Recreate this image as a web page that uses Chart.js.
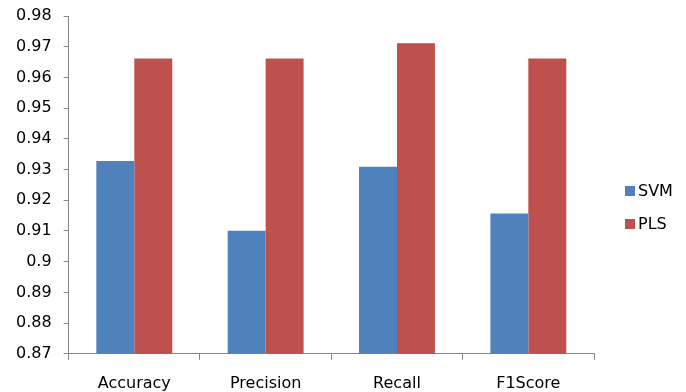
<!DOCTYPE html>
<html>
<head>
<meta charset="utf-8">
<script src="https://cdn.jsdelivr.net/npm/chart.js@4.4.1/dist/chart.umd.min.js"></script>
<style>
  html, body { margin: 0; padding: 0; background: #fff; }
  #wrap { position: relative; width: 686px; height: 392px; }
  #legend { position: absolute; left: 625px; top: 179px; font-family: "DejaVu Sans", sans-serif; font-size: 16px; color: #000; }
  #legend div { height: 33px; line-height: 24px; white-space: nowrap; }
  #legend span { display: inline-block; width: 10px; height: 10px; margin-right: 3px; }
</style>
</head>
<body>
<div id="wrap">
  <canvas id="myChart" width="686" height="392"></canvas>
  <div id="legend"></div>
</div>
<script>
var categories = ["Accuracy", "Precision", "Recall", "F1Score"]
var svmValues = [0.9328, 0.9101, 0.9309, 0.9157]
var plsValues = [0.9662, 0.9662, 0.9711, 0.9662]
var seriesNames = ["SVM", "PLS"]
var seriesColors = ["#4F81BD", "#C0504D"]

// legend on the side, outside the canvas
var legendHtml = ""
for (let i = 0; i < seriesNames.length; i++) {
    legendHtml += "<div><span style='background:" + seriesColors[i] + "'></span>" + seriesNames[i] + "</div>"
}
document.getElementById("legend").innerHTML = legendHtml

const chart_data = {
    labels: categories,
    datasets: [{
        label: seriesNames[0],
        data: svmValues,
        backgroundColor: seriesColors[0]
    }, {
        label: seriesNames[1],
        data: plsValues,
        backgroundColor: seriesColors[1]
    }]
};

const config = {
    type: 'bar',
    data: chart_data,
    options: {
        responsive: false,
        animation: false,
        layout: { padding: { left: 4, right: 92, top: 16, bottom: -15 } },
        datasets: { bar: { categoryPercentage: 0.578, barPercentage: 1.0 } },
        plugins: {
            legend: { display: false },
            tooltip: { enabled: false }
        },
        scales: {
            x: {
                grid: { drawOnChartArea: false, tickLength: 6, color: '#868686' },
                border: { color: '#868686' },
                ticks: { color: '#000', padding: 14, font: { family: 'DejaVu Sans', size: 16 } }
            },
            y: {
                min: 0.87,
                max: 0.98,
                afterFit: function (scale) { scale.paddingTop = 0 },
                grid: { drawOnChartArea: false, tickLength: 5, color: '#868686' },
                border: { color: '#868686' },
                ticks: {
                    stepSize: 0.01,
                    color: '#000',
                    padding: 12,
                    font: { family: 'DejaVu Sans', size: 16 },
                    callback: function (v) { return String(Number(v.toFixed(2))) }
                }
            }
        }
    }
};

const myChart = new Chart(document.getElementById('myChart'), config);
</script>
</body>
</html>
